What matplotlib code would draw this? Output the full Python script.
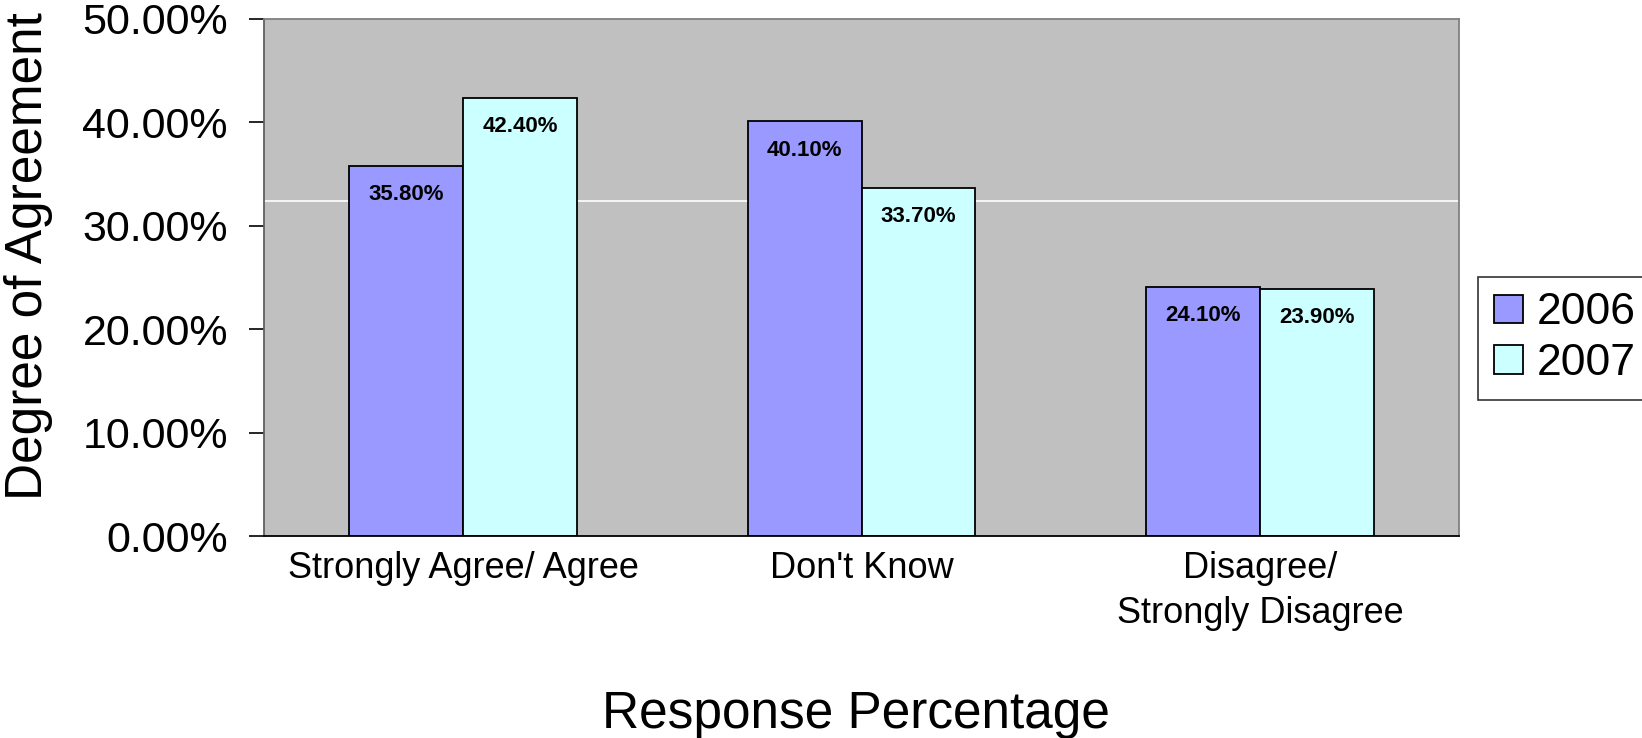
import numpy as np
import matplotlib
matplotlib.use('Agg')
import matplotlib.pyplot as plt
from matplotlib.ticker import FuncFormatter

plt.rcParams['font.family'] = ['Liberation Sans', 'DejaVu Sans']

# survey responses, share of respondents per year
categories = ['Strongly Agree/ Agree', "Don't Know", 'Disagree/\nStrongly Disagree']
years = ['2006', '2007']
vals_2006 = [0.358, 0.401, 0.241]
vals_2007 = [0.424, 0.337, 0.239]
colors = ['#9999FF', '#CCFFFF']

fig = plt.figure(figsize=(16.42, 7.38), dpi=100)
ax = fig.add_axes([0.1608, 0.2737, 0.7278, 0.7006])
ax.set_facecolor('#C0C0C0')

x = np.arange(len(categories))
w = 1 / 3.5

# stray white rule across the plot area
ax.axhline(0.324, color='white', lw=1.2, zorder=1)

bars = []
for i, (vals, col) in enumerate(zip([vals_2006, vals_2007], colors)):
    b = ax.bar(x + (i - 0.5) * w, vals, w, color=col, edgecolor='black',
               linewidth=1.3, zorder=2, label=years[i])
    bars.append(b)
    for xi, v in zip(x + (i - 0.5) * w, vals):
        ax.annotate('%.2f%%' % (v * 100), (xi, v), xytext=(0, -29),
                    textcoords='offset pixels', ha='center', va='center',
                    fontsize=16, fontweight='bold', zorder=3)

ax.set_xlim(-0.5, 2.5)
ax.set_ylim(0, 0.5)
ax.set_yticks(np.arange(0, 0.51, 0.1))
ax.yaxis.set_major_formatter(FuncFormatter(lambda v, p: '%.2f%%' % (v * 100)))
ax.tick_params(axis='y', labelsize=31, length=11, width=1.2, pad=15)
ax.set_xticks(x)
ax.set_xticklabels(categories, fontsize=26, linespacing=1.35)
ax.tick_params(axis='x', length=0, pad=11)

ax.spines['left'].set_color('#606060')
ax.spines['top'].set_color('#808080')
ax.spines['right'].set_color('#808080')
ax.spines['bottom'].set_color('black')
for s in ax.spines.values():
    s.set_linewidth(1.3)

fig.text(0.0175, 0.653, 'Degree of Agreement', rotation=90, ha='center',
         va='center', fontsize=37)
fig.text(0.521, 0.0325, 'Response Percentage', ha='center', va='center',
         fontsize=37)

leg = fig.legend(handles=bars, labels=years, loc='upper left',
                 bbox_to_anchor=(0.9004, 0.625), fontsize=32, frameon=True,
                 fancybox=False, edgecolor='black', handlelength=0.66,
                 handleheight=0.6, handletextpad=0.3, labelspacing=0.22,
                 borderpad=0.35, borderaxespad=0)
leg.get_frame().set_linewidth(1.2)

fig.savefig('out.png', dpi=100)
